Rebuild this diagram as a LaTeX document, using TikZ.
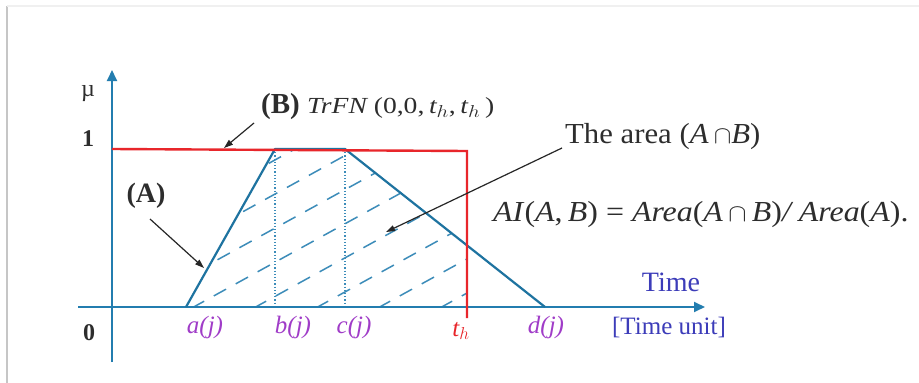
\documentclass[tikz,border=0pt]{standalone}
\usepackage{fontspec}
\usepackage{graphicx}
\setmainfont{Liberation Serif}
\usetikzlibrary{arrows.meta}
\definecolor{axisblue}{RGB}{35,125,175}
\definecolor{trapblue}{RGB}{30,115,160}
\definecolor{hatchblue}{RGB}{60,140,185}
\definecolor{redline}{RGB}{232,38,43}
\definecolor{purp}{RGB}{160,60,200}
\definecolor{timeblue}{RGB}{60,60,185}
\definecolor{txtgray}{RGB}{45,45,45}
\begin{document}
\begin{tikzpicture}[x=1pt,y=-1pt,
  axis/.style={draw=axisblue,line width=1.8pt,-{Triangle[length=11pt,width=10pt]}},
  trap/.style={draw=trapblue,line width=2.2pt},
  redl/.style={draw=redline,line width=2.4pt},
  hatch/.style={draw=hatchblue,line width=1.5pt,dash pattern=on 14pt off 11pt},
  dotv/.style={draw=hatchblue,line width=1.2pt,dotted},
  callout/.style={draw=black!85,line width=1.2pt,-{Triangle[length=9pt,width=6pt]}},
  lab/.style={inner sep=0pt,text=txtgray,font=\fontsize{24}{26}\selectfont},
  tick/.style={inner sep=0pt,text=purp,font=\fontsize{25}{27}\selectfont\itshape},
  blab/.style={inner sep=0pt,text=timeblue,font=\fontsize{25}{27}\selectfont},
]
\useasboundingbox (0,0) rectangle (919,383);
\fill[white] (0,0) rectangle (919,383);
\draw[gray!45,line width=2.5pt] (7,6) -- (7,383);
\draw[gray!12,line width=1.5pt] (7,6) -- (919,6);

% hatching
\begin{scope}
\clip (186,307) -- (275,149) -- (345,149) -- (466,244.6) -- (466,307) -- cycle;
\foreach \k in {-6,...,8}{
  \draw[hatch] ({170+\k*62},{320}) -- ({170+\k*62+400},{320-220});
}
\end{scope}
\draw[dotv] (275,149) -- (275,307);
\draw[dotv] (345,149) -- (345,307);

% axes
\coordinate (xs) at (78,307);
\coordinate (xe) at (705,307);
\coordinate (ys) at (112,362);
\coordinate (ye) at (112,70);
\draw[axis] (xs) -- (xe);
\draw[axis] (ys) -- (ye);

% trapezoid
\coordinate (a) at (186,307);
\coordinate (b) at (275,149);
\coordinate (c) at (345,149);
\coordinate (d) at (545,307);
\draw[trap,line join=round] (a) -- (b) -- (c) -- (d);

% red TrFN
\coordinate (r0) at (112,149);
\coordinate (r1) at (467,151);
\coordinate (r2) at (467,318);
\draw[redl,line join=miter] (r0) -- (r1) -- (r2);

% labels
\node[lab] (mu) at (88,94) {µ};
\node[lab,font=\fontsize{24}{26}\selectfont\bfseries] (one) at (88,139) {1};
\node[lab,font=\fontsize{24}{26}\selectfont\bfseries] (zero) at (89,333) {0};
\node[tick] (aj) at (205,327) {a(j)};
\node[tick] (bj) at (293,327) {b(j)};
\node[tick] (cj) at (354,327) {c(j)};
\node[tick,text=redline] (th) at (461,331) {t$_h$};
\node[tick] (dj) at (546,327) {d(j)};
\node[blab,font=\fontsize{28}{30}\selectfont] (time) at (671,282) {Time};
\node[blab] (tunit) at (669,327) {[Time unit]};

\node[lab,font=\fontsize{28}{30}\selectfont\bfseries] (Alab) at (146,196) {(A)};
\node[lab,anchor=west] (Blab) at (261,107) {\fontsize{29}{30}\selectfont\bfseries (B)\ \fontsize{23}{24}\selectfont\mdseries\scalebox{1.2}[1]{\itshape TrFN \upshape(0,0,\,\itshape t$_h$\upshape ,\,\itshape t$_h$\upshape\,)}};
\node[lab,anchor=west] (area) at (565,137) {\fontsize{29}{30}\selectfont\scalebox{1.06}[1]{The area (\textit{A}\,$\cap$\textit{B})}};
\node[lab,anchor=west] (form) at (493,215) {\fontsize{29}{30}\selectfont\scalebox{1.1}[1]{\textit{AI}(\textit{A},\,\textit{B}) = \textit{Area}(\textit{A}\,$\cap$\,\textit{B})\textit{/ Area}(\textit{A}).}};

% callouts
\coordinate (At) at (204,268);
\coordinate (Bt) at (224,148);
\coordinate (Ct) at (386,232);
\draw[callout] (150,219) -- (At);
\draw[callout] (254,123) -- (Bt);
\draw[callout] (562,148) -- (Ct);
\end{tikzpicture}
\end{document}
